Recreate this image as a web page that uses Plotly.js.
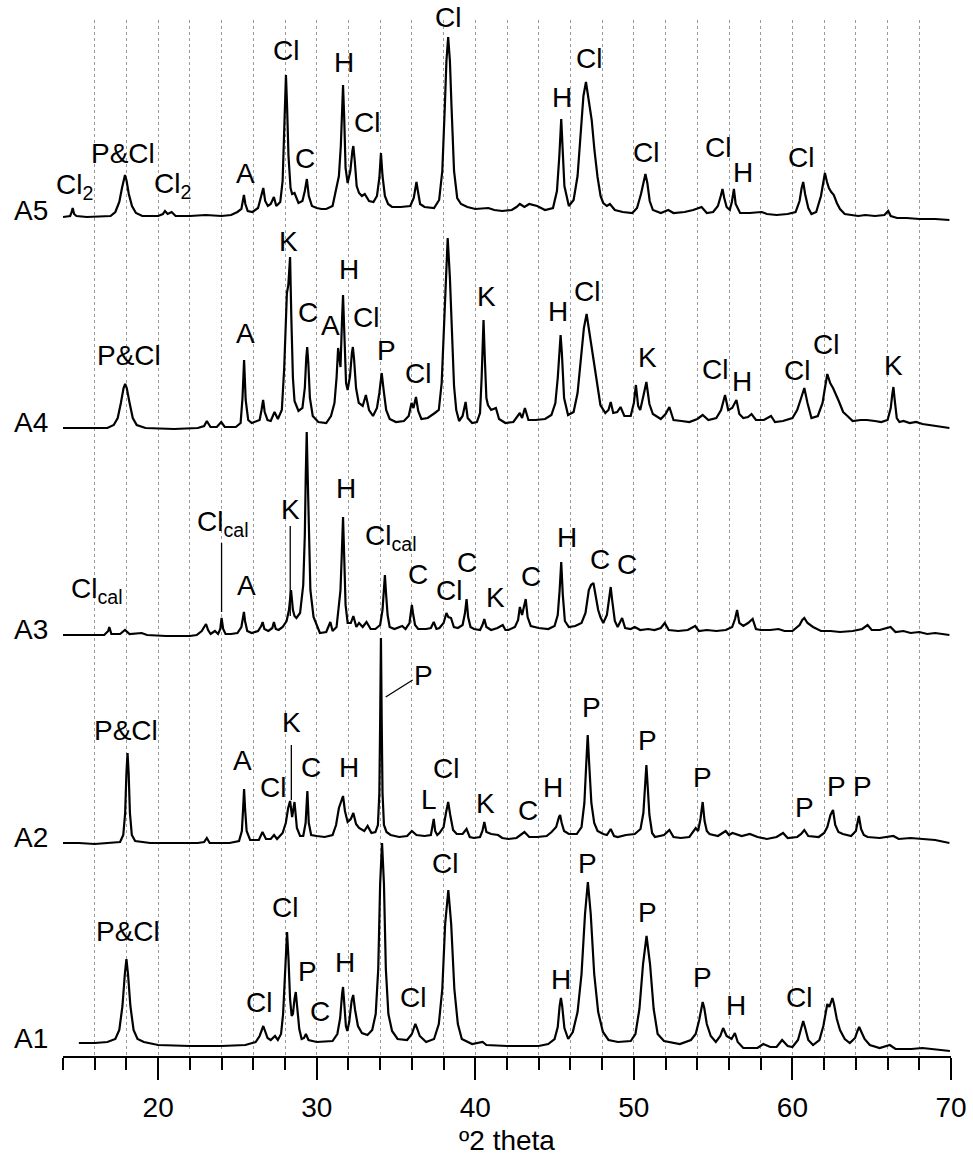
<!DOCTYPE html>
<html><head><meta charset="utf-8">
<script src="https://cdn.plot.ly/plotly-3.0.1.min.js"></script>
<style>html,body{margin:0;padding:0;background:#fff}#chart{width:973px;height:1166px}</style>
</head><body><div id="chart"></div>
<script>
// Sample names and vertical stacking offsets (intensity units)
const sampleNames = ['A1','A2','A3','A4','A5'];
const sampleOffsets = [12, 213, 421, 628, 840];

// Diffractogram vertices: [2theta (deg), intensity above the sample baseline]
const a1 = [[15.0,1],[16.0,1],[16.8,2],[17.3,5],[17.55,14],[17.75,38],[17.9,70],[18.0,85],[18.1,70],[18.25,38],[18.45,14],[18.7,5],[19.1,2],[20.0,-1],[22.0,-2],[24.0,-2],[25.5,-1],[26.15,2],[26.4,8],[26.55,15],[26.63,18],[26.72,14],[26.9,6],[27.1,4],[27.37,8],[27.55,4],[27.75,10],[27.88,30],[27.98,70],[28.06,100],[28.13,112],[28.22,85],[28.32,45],[28.42,28],[28.5,30],[28.6,45],[28.68,52],[28.78,35],[28.9,15],[29.05,5],[29.2,6],[29.32,10],[29.48,4],[30.0,2],[31.0,3],[31.3,10],[31.48,26],[31.6,50],[31.66,57],[31.74,40],[31.84,18],[31.93,13],[32.05,22],[32.2,43],[32.3,49],[32.42,34],[32.6,18],[32.85,11],[33.2,9],[33.5,14],[33.72,30],[33.88,75],[34.0,160],[34.12,201],[34.24,160],[34.36,75],[34.52,30],[34.75,13],[35.1,5],[35.7,4],[36.0,10],[36.15,17],[36.22,20],[36.32,16],[36.5,8],[36.9,2],[37.4,5],[37.7,20],[37.92,55],[38.1,120],[38.3,154],[38.48,120],[38.68,55],[38.9,20],[39.15,5],[39.8,0],[40.46,2],[40.7,-1],[42.0,-2],[44.0,-2],[44.6,0],[45.0,5],[45.2,17],[45.32,38],[45.4,46],[45.48,38],[45.62,16],[45.86,5],[46.15,12],[46.45,32],[46.7,70],[46.92,130],[47.1,162],[47.28,130],[47.5,70],[47.75,32],[48.05,12],[48.4,4],[49.0,2],[49.8,3],[50.1,10],[50.35,35],[50.58,80],[50.8,108],[51.02,80],[51.25,35],[51.5,10],[51.9,3],[52.9,0],[53.6,4],[53.9,10],[54.12,24],[54.26,38],[54.34,42],[54.44,36],[54.6,20],[54.85,8],[55.17,2],[55.45,8],[55.63,16],[55.85,8],[56.16,5],[56.37,11],[56.55,2],[56.9,-4],[57.8,-4],[58.16,0],[58.6,-3],[59.0,-3],[59.35,4],[59.7,-2],[60.0,-3],[60.35,4],[60.55,15],[60.68,23],[60.82,15],[61.0,4],[61.3,-1],[61.7,4],[61.95,18],[62.1,33],[62.2,40],[62.33,37],[62.45,43],[62.52,46],[62.62,40],[62.8,25],[63.0,14],[63.3,5],[63.62,1],[63.95,6],[64.1,13],[64.21,17],[64.35,12],[64.55,5],[64.88,-1],[65.5,-4],[66.14,-1],[66.5,-5],[67.5,-5],[68.2,-4],[69.93,-7]];

const a2 = [[14.0,0],[15.0,0],[16.0,-1],[17.0,0],[17.6,1],[17.8,8],[17.92,30],[18.0,70],[18.07,90],[18.14,70],[18.22,30],[18.34,8],[18.55,2],[19.5,0],[21.0,0],[22.5,0],[22.9,1],[23.07,5],[23.25,0],[24.5,0],[25.1,2],[25.28,12],[25.36,35],[25.42,54],[25.48,35],[25.58,12],[25.8,3],[26.35,3],[26.58,11],[26.8,4],[27.1,4],[27.31,8],[27.5,4],[27.85,10],[28.05,20],[28.2,35],[28.32,42],[28.45,26],[28.6,41],[28.75,15],[28.95,7],[29.15,7],[29.3,20],[29.41,52],[29.5,20],[29.65,8],[30.0,7],[30.5,6],[31.0,8],[31.22,18],[31.4,35],[31.56,42],[31.66,47],[31.78,32],[31.95,21],[32.15,24],[32.31,30],[32.48,19],[32.67,15],[33.0,12],[33.21,17],[33.45,10],[33.7,11],[33.86,18],[33.95,50],[34.0,120],[34.05,205],[34.1,120],[34.15,50],[34.24,18],[34.4,11],[34.66,8],[35.2,6],[35.7,7],[36.0,12],[36.29,8],[36.8,7],[37.2,8],[37.3,15],[37.38,24],[37.47,12],[37.6,8],[37.74,10],[38.0,16],[38.15,30],[38.29,41],[38.42,28],[38.6,13],[38.83,9],[39.2,9],[39.45,14],[39.65,6],[39.92,5],[40.3,6],[40.45,12],[40.57,21],[40.7,11],[41.0,9],[41.44,8],[41.7,5],[42.09,4],[42.6,5],[43.1,11],[43.4,6],[43.9,6],[44.5,7],[44.81,11],[45.1,16],[45.28,26],[45.35,28],[45.45,20],[45.6,12],[45.9,9],[46.4,9],[46.7,16],[46.88,40],[47.0,80],[47.09,108],[47.18,80],[47.32,40],[47.5,20],[47.71,12],[48.07,9],[48.3,8],[48.54,14],[48.75,7],[48.98,6],[49.5,8],[50.06,9],[50.42,14],[50.6,30],[50.72,60],[50.79,78],[50.86,60],[50.98,28],[51.15,10],[51.33,6],[51.9,8],[52.24,13],[52.5,6],[52.96,5],[53.5,6],[53.9,15],[54.05,12],[54.2,24],[54.34,41],[54.46,22],[54.6,12],[54.77,9],[55.3,7],[55.79,12],[56.0,8],[56.22,10],[56.8,7],[57.31,9],[57.8,6],[58.39,4],[59.0,6],[59.41,10],[59.7,5],[60.3,6],[60.55,9],[60.75,13],[61.0,7],[61.66,6],[62.0,10],[62.2,16],[62.4,28],[62.56,33],[62.7,18],[62.9,11],[63.18,9],[63.7,7],[64.0,12],[64.19,27],[64.33,14],[64.5,8],[64.74,6],[65.5,5],[66.37,7],[66.7,4],[67.45,5],[68.36,4],[69.0,3],[69.9,0]];

const a3 = [[14.0,0],[15.5,0],[16.6,0],[16.85,4],[16.92,8],[17.05,1],[17.6,1],[17.91,5],[18.2,1],[18.96,2],[19.3,0],[20.5,-1],[22.0,-1],[22.43,0],[22.75,4],[22.9,8],[23.02,11],[23.15,5],[23.31,1],[23.58,4],[23.78,1],[23.92,6],[24.0,17],[24.1,6],[24.25,1],[24.6,1],[25.0,2],[25.25,8],[25.35,16],[25.41,23],[25.48,14],[25.62,4],[25.9,2],[26.3,4],[26.5,9],[26.59,13],[26.7,6],[26.95,4],[27.2,7],[27.3,13],[27.42,6],[27.6,5],[27.85,8],[28.1,14],[28.25,25],[28.38,45],[28.5,25],[28.6,19],[28.72,17],[28.95,22],[29.15,50],[29.25,100],[29.31,160],[29.37,203],[29.43,160],[29.5,100],[29.6,45],[29.8,18],[30.0,9],[30.2,2],[30.6,3],[30.86,13],[31.0,4],[31.25,8],[31.4,30],[31.5,45],[31.58,80],[31.66,118],[31.73,80],[31.82,30],[31.95,12],[32.15,12],[32.31,19],[32.5,8],[32.67,12],[32.9,8],[33.14,13],[33.4,6],[33.7,6],[34.0,10],[34.15,25],[34.24,45],[34.3,60],[34.37,42],[34.47,20],[34.6,8],[34.9,6],[35.39,9],[35.6,6],[35.85,12],[35.95,24],[36.0,30],[36.07,22],[36.2,10],[36.4,6],[36.9,6],[37.2,7],[37.38,13],[37.55,6],[37.74,7],[38.0,12],[38.18,22],[38.3,18],[38.47,17],[38.65,8],[38.9,7],[39.2,10],[39.35,22],[39.45,36],[39.55,18],[39.7,8],[39.92,6],[40.3,5],[40.45,10],[40.57,16],[40.7,8],[41.0,5],[41.4,7],[41.73,10],[41.9,5],[42.09,5],[42.5,8],[42.7,15],[42.81,28],[42.95,20],[43.1,30],[43.18,36],[43.3,18],[43.5,9],[44.0,7],[44.6,6],[45.0,9],[45.2,20],[45.32,45],[45.42,73],[45.52,40],[45.65,14],[45.9,8],[46.3,9],[46.7,12],[46.95,22],[47.16,45],[47.3,50],[47.45,52],[47.6,38],[47.75,25],[47.89,18],[48.07,12],[48.3,20],[48.45,38],[48.54,48],[48.63,35],[48.8,14],[48.98,8],[49.26,17],[49.45,7],[49.8,6],[50.06,8],[50.4,5],[50.9,6],[51.3,5],[51.7,7],[51.95,12],[52.2,5],[52.8,4],[53.4,5],[53.87,9],[54.1,4],[54.6,5],[55.2,4],[55.8,5],[56.2,8],[56.38,16],[56.51,25],[56.65,12],[56.9,9],[57.2,12],[57.49,16],[57.7,6],[58.0,5],[58.6,5],[59.12,6],[59.5,4],[60.0,4],[60.45,10],[60.62,15],[60.75,17],[60.95,12],[61.3,8],[61.8,4],[62.4,4],[63.0,3],[63.8,4],[64.4,6],[64.74,10],[65.0,5],[65.5,5],[66.19,8],[66.5,3],[67.0,4],[67.45,2],[68.0,3],[68.5,1],[69.0,2],[69.9,0]];

const a4 = [[14.0,0],[15.5,0],[16.8,0],[17.2,3],[17.45,10],[17.65,25],[17.82,40],[17.92,44],[18.02,40],[18.2,25],[18.4,10],[18.65,3],[19.2,0],[21.0,-1],[22.5,0],[22.9,2],[23.07,7],[23.3,1],[23.7,1],[23.98,6],[24.2,1],[24.9,1],[25.2,5],[25.32,30],[25.42,68],[25.52,28],[25.68,8],[25.9,5],[26.4,8],[26.52,18],[26.62,28],[26.72,16],[26.9,8],[27.1,7],[27.34,16],[27.55,9],[27.8,18],[27.95,60],[28.05,110],[28.12,135],[28.21,143],[28.32,171],[28.4,110],[28.5,50],[28.6,27],[28.85,17],[29.1,20],[29.25,40],[29.34,70],[29.4,81],[29.47,65],[29.57,30],[29.75,12],[30.1,6],[30.6,5],[30.9,12],[31.12,25],[31.25,50],[31.35,80],[31.5,61],[31.6,110],[31.66,133],[31.73,100],[31.85,45],[31.95,38],[32.1,52],[32.22,75],[32.28,81],[32.36,68],[32.48,40],[32.65,25],[32.9,22],[33.1,33],[33.3,18],[33.55,12],[33.8,20],[33.95,35],[34.1,55],[34.22,38],[34.38,18],[34.6,9],[35.0,6],[35.5,7],[35.8,12],[35.98,25],[36.1,20],[36.26,31],[36.4,17],[36.6,9],[37.0,10],[37.45,15],[37.7,18],[37.88,45],[38.0,90],[38.12,150],[38.26,190],[38.4,150],[38.52,90],[38.66,42],[38.8,18],[38.98,7],[39.2,12],[39.39,26],[39.52,10],[39.8,5],[40.1,6],[40.3,15],[40.4,50],[40.47,95],[40.52,108],[40.6,70],[40.7,30],[40.8,23],[41.0,18],[41.3,20],[41.5,9],[41.9,5],[42.4,6],[42.81,15],[42.95,10],[43.13,20],[43.35,8],[43.8,8],[44.4,9],[44.8,13],[45.05,25],[45.2,50],[45.32,85],[45.38,93],[45.46,75],[45.6,30],[45.85,13],[46.2,16],[46.45,35],[46.65,65],[46.85,100],[47.02,114],[47.18,97],[47.34,81],[47.6,55],[47.89,23],[48.2,15],[48.4,18],[48.54,26],[48.7,15],[48.95,16],[49.16,21],[49.4,12],[49.8,12],[50.0,25],[50.13,43],[50.27,22],[50.4,18],[50.6,32],[50.79,46],[50.98,24],[51.2,14],[51.7,9],[52.0,14],[52.24,21],[52.5,8],[53.0,7],[53.5,6],[54.0,9],[54.34,13],[54.7,8],[55.2,10],[55.5,18],[55.75,33],[55.95,18],[56.2,20],[56.47,28],[56.65,14],[56.9,10],[57.2,11],[57.42,14],[57.7,8],[58.2,8],[58.65,12],[58.9,6],[59.4,7],[60.0,10],[60.3,18],[60.55,30],[60.75,40],[60.95,25],[61.2,10],[61.6,12],[61.9,25],[62.05,40],[62.2,54],[62.38,45],[62.56,40],[62.92,27],[63.2,16],[63.47,12],[63.8,7],[64.3,8],[64.7,8],[65.2,7],[65.6,6],[66.0,8],[66.2,20],[66.3,34],[66.37,41],[66.45,28],[66.58,10],[66.75,6],[67.0,7],[67.4,5],[67.8,6],[68.2,4],[69.0,2],[69.9,0]];

const a5 = [[14.0,-1],[14.45,0],[14.55,4],[14.61,8],[14.7,2],[14.85,0],[15.5,-1],[16.5,0],[17.0,0],[17.3,4],[17.55,14],[17.72,28],[17.84,38],[17.91,41],[18.0,36],[18.15,22],[18.35,10],[18.6,3],[19.0,0],[20.0,0],[20.3,2],[20.43,5],[20.6,2],[20.85,4],[21.1,0],[22.0,0],[23.0,1],[24.0,0],[24.6,1],[25.0,4],[25.25,7],[25.35,15],[25.41,21],[25.5,12],[25.65,5],[25.95,4],[26.3,8],[26.5,20],[26.63,28],[26.75,15],[26.92,10],[27.1,12],[27.3,19],[27.45,10],[27.7,14],[27.85,35],[27.95,80],[28.01,120],[28.06,141],[28.13,110],[28.22,60],[28.35,28],[28.45,22],[28.6,23],[28.85,13],[29.1,15],[29.25,25],[29.38,37],[29.5,20],[29.7,10],[30.0,8],[30.3,7],[30.6,7],[31.0,10],[31.22,28],[31.4,40],[31.52,70],[31.6,110],[31.66,131],[31.73,100],[31.82,48],[31.95,33],[32.12,45],[32.25,65],[32.31,70],[32.4,55],[32.52,30],[32.67,23],[32.85,20],[33.03,22],[33.3,15],[33.58,14],[33.8,20],[33.95,38],[34.05,63],[34.15,40],[34.3,20],[34.5,12],[34.75,9],[35.3,9],[35.9,10],[36.12,18],[36.22,28],[36.29,34],[36.38,25],[36.52,12],[36.8,9],[37.4,8],[37.72,16],[37.92,45],[38.08,110],[38.18,155],[38.29,179],[38.4,155],[38.5,110],[38.66,45],[38.86,18],[39.1,12],[39.5,9],[40.0,7],[40.82,8],[41.2,6],[41.7,5],[42.3,6],[42.6,9],[42.81,12],[43.1,9],[43.4,12],[43.9,10],[44.4,6],[44.9,8],[45.15,25],[45.3,60],[45.37,90],[45.42,97],[45.5,70],[45.62,30],[45.9,10],[46.2,16],[46.45,40],[46.65,80],[46.82,120],[46.98,134],[47.15,115],[47.34,96],[47.52,65],[47.71,39],[47.9,20],[48.07,13],[48.3,10],[48.49,12],[48.8,6],[49.3,4],[49.9,3],[50.2,8],[50.45,22],[50.62,36],[50.73,42],[50.85,33],[51.0,15],[51.2,6],[51.7,3],[52.17,6],[52.5,3],[53.2,4],[53.74,6],[54.27,9],[54.6,3],[55.0,4],[55.3,10],[55.48,20],[55.59,27],[55.7,18],[55.85,9],[56.05,6],[56.18,14],[56.31,27],[56.42,12],[56.7,3],[57.3,3],[58.05,4],[58.4,2],[59.0,1],[59.7,2],[60.2,4],[60.45,15],[60.58,28],[60.68,34],[60.8,22],[61.0,8],[61.2,2],[61.5,4],[61.8,20],[61.95,35],[62.05,43],[62.18,34],[62.3,28],[62.45,24],[62.61,21],[62.8,13],[63.0,7],[63.3,2],[63.8,1],[64.15,0],[64.6,1],[65.2,0],[65.8,1],[66.04,5],[66.2,0],[66.6,-2],[67.2,-2],[68.0,-3],[69.0,-3],[69.9,-4]];

const patterns = [a1, a2, a3, a4, a5];

// Phase labels: [text, 2theta, height on the stacked scale]
const phaseLabels = [
  // A5
  ['Cl<sub>2</sub>',14.75,870],['P&Cl',17.78,903],['Cl<sub>2</sub>',20.9,871],['A',25.48,883],['C',29.26,898],
  ['Cl',28.06,1006],['H',31.72,994],['Cl',33.17,934],['H',45.46,959],['Cl',47.17,998],
  ['Cl',50.74,904],['Cl',55.28,909],['H',56.9,884],['Cl',60.57,899],
  // A4
  ['P&Cl',18.18,701],['A',25.5,723],['K',28.21,815],['C',29.48,744],['A',30.86,731],['H',32.02,787],
  ['Cl',33.1,739],['P',34.37,706],['Cl',36.37,683],['K',40.71,760],['H',45.24,745],['Cl',47.05,765],
  ['K',50.86,699],['Cl',55.13,687],['H',56.84,675],['Cl',60.28,686],['Cl',62.09,712],['K',66.37,691],
  // A3
  ['Cl<sub>cal</sub>',16.12,466],['Cl<sub>cal</sub>',24.06,533],['A',25.58,471],['K',28.35,547],['H',31.85,568],
  ['Cl<sub>cal</sub>',34.66,519],['C',36.37,482],['Cl',38.36,466],['C',39.5,494],['K',41.26,459],
  ['C',43.5,480],['H',45.79,519],['C',47.89,497],['C',49.59,492],
  // A2
  ['P&Cl',18.0,326],['A',25.3,296],['Cl',27.24,269],['K',28.4,334],['C',29.66,289],['H',32.02,289],
  ['P',36.73,381],['L',37.09,257],['Cl',38.18,288],['K',40.63,253],['C',43.34,246],['H',44.9,269],
  ['P',47.3,349],['P',50.87,316],['P',54.3,279],['P',60.78,249],['P',62.8,270],['P',64.44,270],
  // A1
  ['P&Cl',18.07,125],['Cl',26.37,54],['Cl',28.03,149],['P',29.41,85],['C',30.21,45],['H',31.76,94],
  ['Cl',36.08,59],['Cl',38.1,193],['H',45.42,77],['P',47.05,193],['P',50.86,144],['P',54.3,79],
  ['H',56.47,51],['Cl',60.39,59]
];
// Label sitting at the very top of the plotting area (anchored by its bottom edge)
const topLabels = [['Cl',38.27,1021]];

// Leader lines from a label to its peak: [from 2theta, from height, to 2theta, to height]
const leaders = [
  [24.0,513,24.0,444],
  [28.33,530,28.33,440],
  [28.4,311,28.4,256],
  [36.05,376,34.35,359]
];

const gridVals = [];
for (let v = 16; v <= 70; v += 2) gridVals.push(v);

const traces = patterns.map((pts, i) => ({
  x: pts.map(p => p[0]),
  y: pts.map(p => p[1] + sampleOffsets[i]),
  type: 'scatter', mode: 'lines',
  line: {color: '#000', width: 2.2},
  hoverinfo: 'skip', showlegend: false, cliponaxis: false
}));
traces.push({x: [], y: [], xaxis: 'x2', type: 'scatter', mode: 'lines', showlegend: false});

const FONT = 'Liberation Sans, Arial, Helvetica, sans-serif';
const annotations = [];
phaseLabels.forEach(l => annotations.push({
  text: l[0], x: l[1], y: l[2], xref: 'x', yref: 'y', showarrow: false,
  font: {family: FONT, size: 28, color: '#000'}
}));
topLabels.forEach(l => annotations.push({
  text: l[0], x: l[1], y: l[2], xref: 'x', yref: 'y', yanchor: 'bottom', showarrow: false,
  font: {family: FONT, size: 28, color: '#000'}
}));
sampleNames.forEach((n, i) => annotations.push({
  text: n, x: -0.0146, xanchor: 'right', xref: 'paper', y: sampleOffsets[i] + 6, yref: 'y',
  showarrow: false, font: {family: FONT, size: 28, color: '#000'}
}));

const shapes = leaders.map(d => ({
  type: 'line', xref: 'x', yref: 'y', x0: d[0], y0: d[1], x1: d[2], y1: d[3],
  line: {color: '#000', width: 1.3}
}));

const layout = {
  width: 973, height: 1166,
  margin: {l: 63, r: 22, t: 20, b: 110},
  paper_bgcolor: '#fff', plot_bgcolor: '#fff',
  font: {family: FONT, size: 28, color: '#000'},
  showlegend: false,
  xaxis: {
    range: [14, 70], tick0: 0, dtick: 10, ticks: 'outside', ticklen: 22, tickwidth: 2, tickcolor: '#000',
    showline: true, linecolor: '#000', linewidth: 2, showgrid: false, zeroline: false,
    tickfont: {family: FONT, size: 28, color: '#000'}, ticklabelstandoff: 3,
    title: {text: 'º2 theta', font: {family: FONT, size: 28, color: '#000'}, standoff: 9},
    minor: {tick0: 0, dtick: 2, ticks: 'outside', ticklen: 12, tickwidth: 2, tickcolor: '#000', showgrid: false},
    fixedrange: true
  },
  xaxis2: {
    range: [14, 70], overlaying: 'x', anchor: 'y', side: 'bottom', tickmode: 'array', tickvals: gridVals,
    showgrid: true, gridcolor: '#9a9a9a', gridwidth: 1, griddash: 'dot',
    showticklabels: false, ticks: '', showline: false, zeroline: false, fixedrange: true
  },
  yaxis: {range: [0, 1036], visible: false, fixedrange: true},
  annotations: annotations,
  shapes: shapes
};

Plotly.newPlot('chart', traces, layout, {staticPlot: true, displayModeBar: false});
</script>
</body></html>
